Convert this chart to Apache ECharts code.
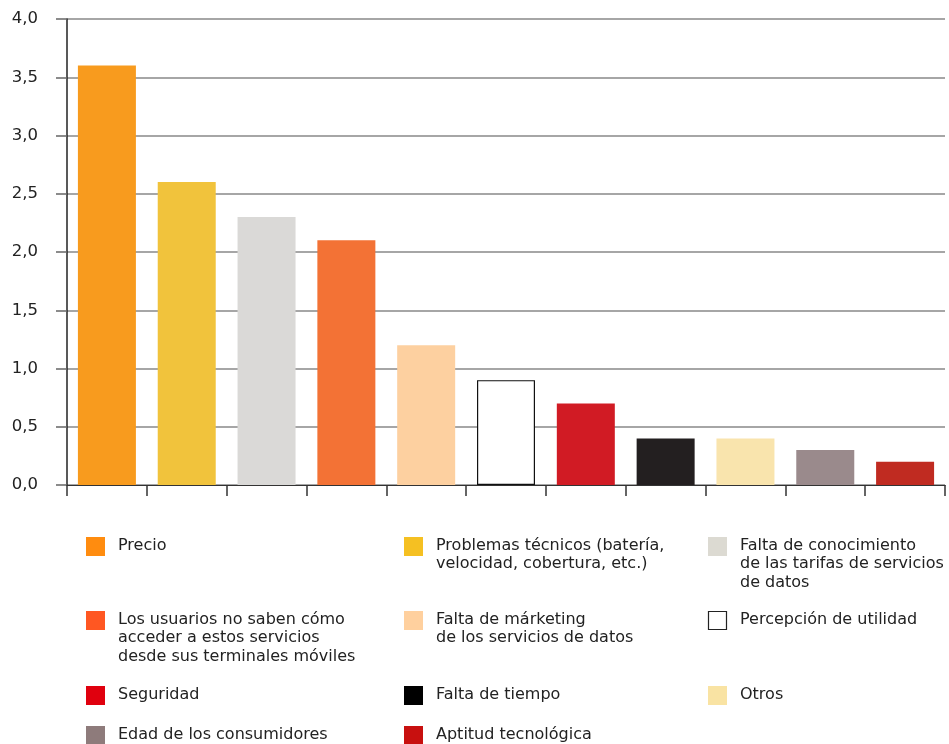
<!DOCTYPE html>
<html>
<head>
<meta charset="utf-8">
<script src="https://cdn.jsdelivr.net/npm/echarts@6/dist/echarts.min.js"></script>
<style>
html,body{margin:0;padding:0;background:#fff;}
#chart{width:949px;height:744px;}
</style>
</head>
<body>
<div id="chart"></div>
<script>
// ---- data ----
const categories = [
  'Precio',
  'Problemas técnicos (batería,\nvelocidad, cobertura, etc.)',
  'Falta de conocimiento\nde las tarifas de servicios\nde datos',
  'Los usuarios no saben cómo\nacceder a estos servicios\ndesde sus terminales móviles',
  'Falta de márketing\nde los servicios de datos',
  'Percepción de utilidad',
  'Seguridad',
  'Falta de tiempo',
  'Otros',
  'Edad de los consumidores',
  'Aptitud tecnológica'
];
const values = [3.6, 2.6, 2.3, 2.1, 1.2, 0.9, 0.7, 0.4, 0.4, 0.3, 0.2];
const barColors = ['#F89B1E','#F1C33C','#DAD9D7','#F37235','#FDD0A0','#FFFFFF','#D11B24','#231F20','#F9E4AD','#9A8A8C','#C02B21'];
const legendColors = ['#FF8C0F','#F5C022','#DCDAD2','#FF5722','#FFD09E','#FFFFFF','#E0000E','#000000','#F9E3A3','#8E7B7B','#C8100F'];
const yTicks = [0, 0.5, 1, 1.5, 2, 2.5, 3, 3.5, 4];

// ---- layout ----
const FONT = '"DejaVu Sans", Verdana, sans-serif';
const colX = [86, 404, 708];
const rowY = [537, 611, 686, 726];
const SQ = 19;
const LH = 18.5;

const chart = echarts.init(document.getElementById('chart'), null, {renderer: 'canvas'});

const legendGraphics = [];
categories.forEach((name, i) => {
  const c = i % 3, r = Math.floor(i / 3);
  const isWhite = legendColors[i] === '#FFFFFF';
  legendGraphics.push({
    type: 'rect',
    shape: {x: colX[c] + (isWhite ? 0.5 : 0), y: rowY[r] + (isWhite ? 0.5 : 0), width: isWhite ? SQ - 1 : SQ, height: isWhite ? SQ - 1 : SQ},
    style: {fill: legendColors[i], stroke: isWhite ? '#222' : null, lineWidth: isWhite ? 1.2 : 0}
  });
  legendGraphics.push({
    type: 'text',
    x: colX[c] + 32,
    y: rowY[r] - 0.5,
    style: {
      text: name,
      font: '16px ' + FONT,
      fill: '#222',
      lineHeight: LH,
      verticalAlign: 'top'
    }
  });
});

chart.setOption({
  animation: false,
  grid: {left: 67, right: 4, top: 19, bottom: 259, containLabel: false},
  xAxis: {
    type: 'category',
    data: categories,
    axisLine: {show: true, lineStyle: {color: '#333', width: 1.2}},
    axisTick: {show: true, interval: 0, alignWithLabel: false, length: 11, inside: false, lineStyle: {color: '#333', width: 1.5}},
    axisLabel: {show: false, interval: 0},
    splitLine: {show: false}
  },
  yAxis: {
    type: 'value',
    min: yTicks[0],
    max: yTicks[yTicks.length - 1],
    interval: 0.5,
    axisLine: {show: true, onZero: false, lineStyle: {color: '#222', width: 1.5}},
    axisTick: {show: true, length: 11, lineStyle: {color: '#666', width: 1.5}},
    axisLabel: {
      margin: 29,
      color: '#222',
      fontSize: 16.5,
      fontFamily: FONT,
      formatter: v => v.toFixed(1).replace('.', ',')
    },
    splitLine: {show: true, lineStyle: {color: '#888', width: 1.5}}
  },
  series: [{
    type: 'bar',
    data: values.map((v, i) => ({
      value: v,
      itemStyle: {
        color: barColors[i],
        borderColor: barColors[i] === '#FFFFFF' ? '#111' : barColors[i],
        borderWidth: barColors[i] === '#FFFFFF' ? 1.2 : 0
      }
    })),
    barWidth: 58,
    z: 3
  }],
  graphic: legendGraphics
});
</script>
</body>
</html>
